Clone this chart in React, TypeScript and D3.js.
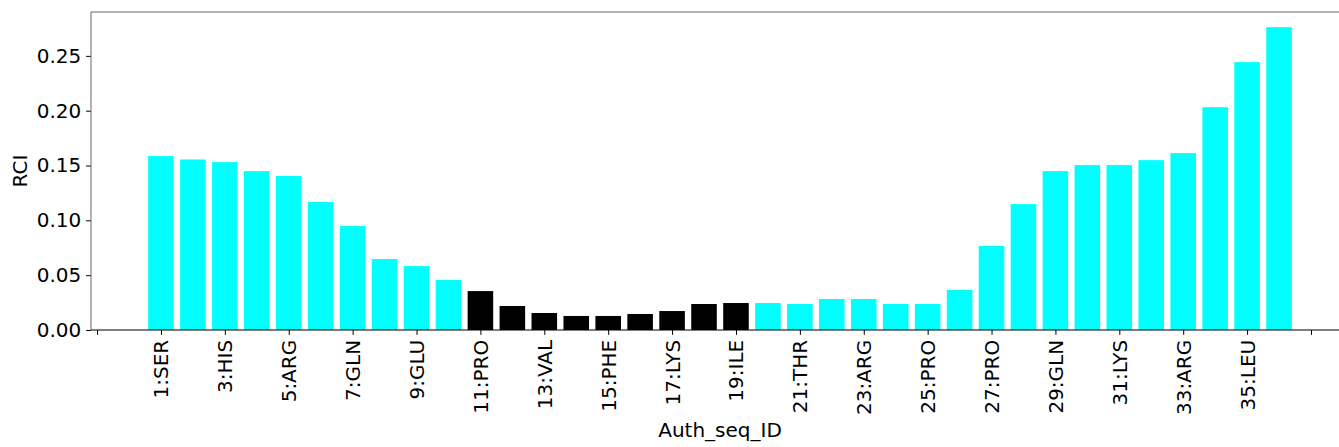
import * as d3 from 'd3';
import { useEffect, useRef } from 'react';

const residueIds = Array.from({ length: 36 }, (_, i) => i + 1);
const rciValues = [
  0.1586, 0.1555, 0.1531, 0.1449, 0.1404, 0.1167, 0.0948, 0.0647, 0.0583, 0.0456,
  0.0355, 0.0219, 0.0155, 0.0128, 0.0128, 0.0146, 0.0173, 0.0237, 0.0246, 0.0246,
  0.0237, 0.0283, 0.0283, 0.0237, 0.0237, 0.0365, 0.0766, 0.1148, 0.1449, 0.1504,
  0.1504, 0.1549, 0.1613, 0.2032, 0.2443, 0.2762,
];
// residues drawn in black (the rest are cyan)
const darkResidues = [11, 12, 13, 14, 15, 16, 17, 18, 19];
const xTickPositions = [-1, 1, 3, 5, 7, 9, 11, 13, 15, 17, 19, 21, 23, 25, 27, 29, 31, 33, 35, 37];
const xTickLabels = [
  '', '1:SER', '3:HIS', '5:ARG', '7:GLN', '9:GLU', '11:PRO', '13:VAL', '15:PHE', '17:LYS',
  '19:ILE', '21:THR', '23:ARG', '25:PRO', '27:PRO', '29:GLN', '31:LYS', '33:ARG', '35:LEU', '',
];
const yTicks = [0, 0.05, 0.1, 0.15, 0.2, 0.25];

const App = () => {
  const svgRef = useRef<any>();
  const width = 1339;
  const height = 447;
  const left = 91;
  const right = 1349;
  const top = 12;
  const bottom = 330;
  const font = 'DejaVu Sans, sans-serif';

  useEffect(() => {
    const svg = d3.select(svgRef.current);
    svg.selectAll('*').remove();

    const xScale = d3.scaleLinear().domain([-1.19, 38.19]).range([left, right]);
    const yMax = d3.max(rciValues)! * 1.05;
    const yScale = d3.scaleLinear().domain([0, yMax]).range([bottom, top]);
    const barW = xScale(0.8) - xScale(0);

    svg
      .append('g')
      .selectAll('rect')
      .data(rciValues)
      .enter()
      .append('rect')
      .attr('x', (d, i) => xScale(residueIds[i]) - barW / 2)
      .attr('y', (d) => yScale(d))
      .attr('width', barW)
      .attr('height', (d) => bottom - yScale(d))
      .attr('fill', (d, i) => (darkResidues.includes(residueIds[i]) ? '#000000' : '#00ffff'));

    const yAxis = d3
      .axisLeft(yScale)
      .tickValues(yTicks)
      .tickFormat(d3.format('.2f'))
      .tickSize(4.9)
      .tickPadding(4.9);
    const yg = svg.append('g').attr('transform', `translate(${left},0)`).call(yAxis);
    yg.select('.domain').remove();
    yg.selectAll('text').attr('font-family', font).attr('font-size', 20).attr('fill', '#000');

    const xAxis = d3
      .axisBottom(xScale)
      .tickValues(xTickPositions)
      .tickFormat((d, i) => xTickLabels[i])
      .tickSize(4.9)
      .tickPadding(0);
    const xg = svg.append('g').attr('transform', `translate(0,${bottom})`).call(xAxis);
    xg.select('.domain').remove();
    xg.selectAll('text')
      .attr('font-family', font)
      .attr('font-size', 20)
      .attr('fill', '#000')
      .attr('text-anchor', 'end')
      .attr('dy', '0.35em')
      .attr('transform', 'translate(0,9.8) rotate(-90)')
      .attr('x', 0)
      .attr('y', 0);

    // spines
    svg.append('line').attr('x1', left).attr('x2', left).attr('y1', top).attr('y2', bottom)
      .attr('stroke', '#666').attr('stroke-width', 1);
    svg.append('line').attr('x1', left).attr('x2', right).attr('y1', top).attr('y2', top)
      .attr('stroke', '#666').attr('stroke-width', 1);
    svg.append('line').attr('x1', left).attr('x2', right).attr('y1', bottom).attr('y2', bottom)
      .attr('stroke', '#000').attr('stroke-width', 1.2);

    svg.append('text')
      .attr('transform', `translate(27,${(top + bottom) / 2}) rotate(-90)`)
      .attr('text-anchor', 'middle')
      .attr('font-family', font)
      .attr('font-size', 20)
      .text('RCI');

    svg.append('text')
      .attr('x', (left + right) / 2)
      .attr('y', 437)
      .attr('text-anchor', 'middle')
      .attr('font-family', font)
      .attr('font-size', 20)
      .text('Auth_seq_ID');
  }, []);

  return (
    <svg
      ref={svgRef}
      width={width}
      height={height}
      style={{ position: 'absolute', left: 0, top: 0, background: '#fff' }}
    />
  );
};

export default App;
